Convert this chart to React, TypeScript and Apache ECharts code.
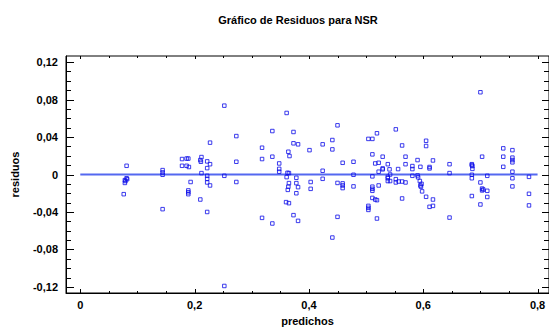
import React, { useEffect, useRef } from "react";
import * as echarts from "echarts";

const titleText = "Gráfico de Residuos para NSR";
const xName = "predichos";
const yName = "residuos";

const xMajor = [0, 0.2, 0.4, 0.6, 0.8];
const xMinor = [0.05, 0.1, 0.15, 0.25, 0.3, 0.35, 0.45, 0.5, 0.55, 0.65, 0.7, 0.75];
const yMajor = [-0.12, -0.08, -0.04, 0, 0.04, 0.08, 0.12];
const yMinor = [-0.11, -0.1, -0.09, -0.07, -0.06, -0.05, -0.03, -0.02, -0.01, 0.01, 0.02, 0.03, 0.05, 0.06, 0.07, 0.09, 0.1, 0.11];

const predichos = [
  0.081, 0.078, 0.079, 0.078, 0.081, 0.082, 0.076, 0.144, 0.144, 0.144, 0.144,
  0.178, 0.186, 0.189, 0.178, 0.186, 0.19, 0.193, 0.189, 0.189, 0.189,
  0.252, 0.361, 0.336, 0.373, 0.273, 0.227, 0.373, 0.381, 0.318, 0.401, 0.364,
  0.366, 0.336, 0.318, 0.273, 0.348, 0.348, 0.348, 0.3625, 0.365, 0.361, 0.378,
  0.252, 0.273, 0.365, 0.378, 0.381, 0.364, 0.363, 0.378, 0.36, 0.365, 0.318,
  0.336, 0.373, 0.381, 0.252, 0.21, 0.211, 0.212, 0.222, 0.227, 0.222, 0.212,
  0.222, 0.222, 0.222, 0.227, 0.21, 0.222,
  0.45, 0.552, 0.519, 0.504, 0.511, 0.441, 0.424, 0.563, 0.441, 0.511, 0.529,
  0.569, 0.459, 0.478, 0.516, 0.522, 0.538, 0.569, 0.581, 0.595, 0.59, 0.529,
  0.529, 0.541, 0.556, 0.581, 0.424, 0.522, 0.611, 0.478, 0.511, 0.542, 0.538,
  0.538, 0.542, 0.538, 0.581, 0.59, 0.591, 0.552, 0.552, 0.557, 0.563, 0.569,
  0.403, 0.45, 0.459, 0.459, 0.459, 0.424, 0.403, 0.478, 0.522, 0.511, 0.511,
  0.511, 0.594, 0.595, 0.596, 0.597, 0.598, 0.605, 0.511, 0.516, 0.519, 0.563,
  0.611, 0.617, 0.504, 0.504, 0.504, 0.45, 0.519, 0.441, 0.605, 0.605,
  0.7, 0.74, 0.756, 0.703, 0.74, 0.756, 0.756, 0.756, 0.617, 0.611, 0.646,
  0.685, 0.686, 0.685, 0.686, 0.74, 0.646, 0.756, 0.685, 0.685, 0.712, 0.756,
  0.785, 0.7, 0.703, 0.703, 0.705, 0.712, 0.756, 0.617, 0.685, 0.712, 0.7,
  0.785, 0.785, 0.646,
];

const residuos = [
  0.0093, -0.006, -0.007, -0.009, -0.004, -0.005, -0.021, 0.0047, 0.0022, -0.0003, -0.037,
  0.0165, 0.017, 0.017, 0.0093, 0.0093, 0.008, -0.008, -0.017, -0.019, -0.021,
  0.0735, 0.0657, 0.0464, 0.0454, 0.041, 0.034, 0.0333, 0.0322, 0.0286, 0.026, 0.0243,
  0.0197, 0.019, 0.0165, 0.0136, 0.0118, 0.006, 0.003, 0.0018, 0.0015, -0.0028, -0.0035,
  -0.0014, -0.008, -0.0092, -0.0092, -0.0135, -0.013, -0.0164, -0.02, -0.0295, -0.0306, -0.0463,
  -0.0523, -0.0434, -0.0495, -0.119, 0.0154, 0.0136, 0.0186, 0.014, 0.011, 0.0068, 0.0015,
  -0.0014, -0.0046, -0.0085, -0.0117, -0.0267, -0.04,
  0.0525, 0.0482, 0.044, 0.038, 0.038, 0.0368, 0.0322, 0.031, 0.0268, 0.0215, 0.019,
  0.019, 0.0125, 0.0136, 0.0118, 0.0125, 0.011, 0.011, 0.009, 0.0082, 0.0154, 0.0065,
  0.0055, 0.0055, 0.0058, 0.0058, 0.004, 0.003, 0.008, -0.0003, -0.002, 0.0, -0.0025,
  -0.004, -0.007, -0.007, -0.0014, -0.001, -0.003, -0.005, -0.0085, -0.0075, -0.0075, -0.0085,
  -0.008, -0.009, -0.0095, -0.0117, -0.0145, -0.0046, -0.0153, -0.0127, -0.0117, -0.013, -0.0153,
  -0.0174, -0.007, -0.0117, -0.013, -0.01, -0.018, -0.0238, -0.025, -0.0267, -0.0274, -0.0256,
  -0.0345, -0.0335, -0.0335, -0.0356, -0.0378, -0.0452, -0.047, -0.0673, 0.036, 0.0304,
  0.0878, 0.0279, 0.026, 0.019, 0.019, 0.018, 0.0154, 0.013, 0.015, 0.0065, 0.011,
  0.011, 0.009, 0.01, 0.006, 0.0082, 0.0015, 0.003, -0.0003, -0.004, -0.0014, -0.004,
  -0.0025, -0.0085, -0.015, -0.017, -0.016, -0.0174, -0.0127, -0.0267, -0.023, -0.024, -0.032,
  -0.0206, -0.033, -0.046,
];

const fitLineX = [0, 0.8];
const fitLineY = [0, 0];

const X_MIN = -0.025;
const X_MAX = 0.82;
const Y_MIN = -0.1265;
const Y_MAX = 0.1265;

const FONT = "Liberation Sans";

const fmt = (v: number) => (v === 0 ? "0" : String(Number(v.toFixed(2))).replace(".", ","));

const GRID = { left: 66, right: 0, top: 56, bottom: 38 };

export default function App() {
  const ref = useRef<HTMLDivElement>(null);
  useEffect(() => {
    if (!ref.current) return;
    const chart = echarts.init(ref.current, undefined, { renderer: "svg" });
    const points = predichos.map((x, i) => [x, residuos[i]]);
    const line = fitLineX.map((x, i) => [x, fitLineY[i]]);
    const textStyle = { fontFamily: FONT, fontSize: 11, fontWeight: "bold", color: "#000" };
    chart.setOption({
      animation: false,
      backgroundColor: "#fff",
      title: {
        text: titleText,
        left: 293,
        top: 9,
        textAlign: "center",
        textStyle,
      },
      grid: {
        left: GRID.left,
        right: GRID.right,
        top: GRID.top,
        bottom: GRID.bottom,
        show: true,
        borderColor: "#000",
        borderWidth: 1,
        backgroundColor: "rgba(0,0,0,0)",
      },
      xAxis: {
        type: "value",
        min: X_MIN,
        max: X_MAX,
        name: xName,
        nameLocation: "middle",
        nameGap: 22,
        nameTextStyle: textStyle,
        axisLine: { show: true, onZero: false, lineStyle: { color: "#000", width: 1 } },
        axisTick: { show: false },
        axisLabel: { show: true, customValues: xMajor, formatter: fmt, margin: 6, ...textStyle },
        splitLine: { show: false },
      },
      yAxis: {
        type: "value",
        min: Y_MIN,
        max: Y_MAX,
        name: yName,
        nameLocation: "middle",
        nameGap: 46,
        nameTextStyle: textStyle,
        axisLine: { show: true, onZero: false, lineStyle: { color: "#000", width: 1 } },
        axisTick: { show: false },
        axisLabel: { show: true, customValues: yMajor, formatter: fmt, margin: 8, ...textStyle },
        splitLine: { show: false },
      },
      series: [
        {
          type: "line",
          data: line,
          showSymbol: false,
          symbol: "none",
          lineStyle: { color: "#5468f0", width: 2 },
          z: 1,
        },
        {
          type: "scatter",
          data: points,
          symbol: "rect",
          symbolSize: 3.5,
          itemStyle: { color: "rgba(255,255,255,0)", borderColor: "#0c0ce8", borderWidth: 1 },
          z: 2,
        },
      ],
    });

    // Ticks placed through the axes' own scales
    const W = chart.getWidth();
    const H = chart.getHeight();
    const left = GRID.left;
    const right = W - GRID.right;
    const top = GRID.top;
    const bottom = H - GRID.bottom;
    const px = (v: number) => Math.round(chart.convertToPixel({ xAxisIndex: 0 }, v) as number) + 0.5;
    const py = (v: number) => Math.round(chart.convertToPixel({ yAxisIndex: 0 }, v) as number) + 0.5;
    const st = { stroke: "#000", lineWidth: 1 };
    const els: any[] = [];
    const xt = (vals: number[], lb: number, lt: number) =>
      vals.forEach((v) => {
        const x = px(v);
        els.push({ type: "line", silent: true, shape: { x1: x, y1: bottom, x2: x, y2: bottom - lb }, style: st });
        els.push({ type: "line", silent: true, shape: { x1: x, y1: top, x2: x, y2: top + lt }, style: st });
      });
    const yt = (vals: number[], ll: number, lr: number) =>
      vals.forEach((v) => {
        const y = py(v);
        els.push({ type: "line", silent: true, shape: { x1: left, y1: y, x2: left + ll, y2: y }, style: st });
        els.push({ type: "line", silent: true, shape: { x1: right, y1: y, x2: right - lr, y2: y }, style: st });
      });
    xt(xMajor, 4, 3);
    xt(xMinor, 2, 2);
    yt(yMajor, 8, 7);
    yt(yMinor, 5, 5);
    chart.setOption({ graphic: { elements: els } });

    return () => chart.dispose();
  }, []);
  return <div ref={ref} style={{ width: 549, height: 331, position: "absolute", left: 0, top: 0 }} />;
}
